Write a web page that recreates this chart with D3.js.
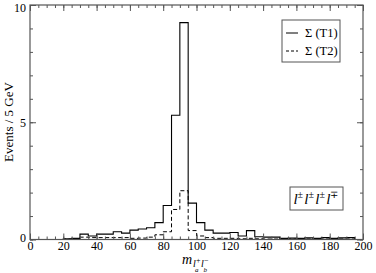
<!DOCTYPE html>
<html><head><meta charset="utf-8">
<script src="https://cdn.jsdelivr.net/npm/d3@7"></script>
<style>body{margin:0;background:#fff}svg{display:block}text{font-family:"Liberation Serif","Times New Roman",serif}</style>
</head><body>
<script>
const binEdges = d3.range(0, 200, 5); // lower edges, 5 GeV bins
const t1 = [0,0,0,0,0.03,0.05,0.23,0.15,0.23,0.23,0.33,0.27,0.40,0.45,0.50,0.72,1.45,5.30,9.25,1.55,0.72,0.40,0.27,0.27,0.30,0.15,0.38,0.12,0.10,0.10,0.05,0.06,0.05,0.07,0.05,0.08,0.05,0.07,0.08,0];
const t2 = [0,0,0,0,0.02,0.02,0.10,0.08,0.08,0.08,0.08,0.08,0.05,0.06,0.10,0.20,0.33,1.28,2.08,0.38,0.15,0.08,0.05,0.05,0.05,0.03,0.05,0.03,0.02,0.02,0.02,0.02,0.02,0.02,0.02,0.02,0.02,0.02,0.02,0];
const xMajor = [0,20,40,60,80,100,120,140,160,180,200];
const yMajor = [0,5,10];
const seriesNames = ["\u03A3 (T1)", "\u03A3 (T2)"];

const W=376,H=273;
const svg=d3.select("body").append("svg").attr("width",W).attr("height",H);
const L=30,R=363,T=5,B=239.5;
const x=d3.scaleLinear().domain([0,200]).range([L,R]);
const y=d3.scaleLinear().domain([0,10]).range([B,T]);
const axisColor="#555";

function stepPts(vals){
  const p=[[binEdges[0],0]];
  vals.forEach((v,i)=>{p.push([binEdges[i],v]);p.push([binEdges[i]+5,v]);});
  p.push([binEdges[binEdges.length-1]+5,0]);
  return p;
}
const line=d3.line().x(d=>x(d[0])).y(d=>y(d[1]));
svg.append("path").attr("d",line(stepPts(t2))).attr("fill","none").attr("stroke","#000").attr("stroke-width",1).attr("stroke-dasharray","4,2.5");
svg.append("path").attr("d",line(stepPts(t1))).attr("fill","none").attr("stroke","#000").attr("stroke-width",1.1);

// axes
const xMinor=d3.range(0,201,5), yMinor=d3.range(0,11,1);
function styleAx(g){g.select(".domain").remove();g.selectAll("line").attr("stroke",axisColor);g.selectAll("text").attr("font-size",12).attr("fill","#000").attr("font-family","Liberation Serif");}
svg.append("g").attr("transform",`translate(0,${B})`).call(d3.axisBottom(x).tickValues(xMinor).tickSize(-3).tickFormat("")).call(styleAx);
svg.append("g").attr("transform",`translate(0,${B})`).call(d3.axisBottom(x).tickValues(xMajor).tickSize(-6).tickPadding(2).tickFormat(d3.format("d"))).call(styleAx);
svg.append("g").attr("transform",`translate(0,${T})`).call(d3.axisTop(x).tickValues(xMinor).tickSize(-3).tickFormat("")).call(styleAx);
svg.append("g").attr("transform",`translate(0,${T})`).call(d3.axisTop(x).tickValues(xMajor).tickSize(-6).tickFormat("")).call(styleAx);
svg.append("g").attr("transform",`translate(${L},0)`).call(d3.axisLeft(y).tickValues(yMinor).tickSize(-3).tickFormat("")).call(styleAx);
const yl=svg.append("g").attr("transform",`translate(${L},0)`).call(d3.axisLeft(y).tickValues(yMajor).tickSize(-6).tickPadding(4).tickFormat(d3.format("d"))).call(styleAx);
yl.selectAll("text").attr("dy",d=>d===10?"0.5em":(d===0?"0.2em":"0.32em"));
svg.append("g").attr("transform",`translate(${R},0)`).call(d3.axisRight(y).tickValues(yMinor).tickSize(-3).tickFormat("")).call(styleAx);
svg.append("g").attr("transform",`translate(${R},0)`).call(d3.axisRight(y).tickValues(yMajor).tickSize(-6).tickFormat("")).call(styleAx);
svg.append("rect").attr("x",L).attr("y",T).attr("width",R-L).attr("height",B-T).attr("fill","none").attr("stroke",axisColor).attr("stroke-width",1.2);

// y title
svg.append("text").attr("transform","translate(13,122) rotate(-90)").attr("text-anchor","middle").attr("font-size",13).text("Events / 5 GeV");

// x title
const xt=svg.append("g");
xt.append("text").attr("x",182).attr("y",264).attr("font-size",14).attr("font-style","italic").text("m");
xt.append("text").attr("x",193).attr("y",267).attr("font-size",10).attr("font-style","italic").text("l");
xt.append("text").attr("x",196).attr("y",263).attr("font-size",8).text("+");
xt.append("text").attr("x",195).attr("y",272).attr("font-size",7).attr("font-style","italic").text("a");
xt.append("text").attr("x",201).attr("y",267).attr("font-size",10).attr("font-style","italic").text("l");
xt.append("text").attr("x",204).attr("y",263).attr("font-size",8).text("\u2212");
xt.append("text").attr("x",203.5).attr("y",272).attr("font-size",7).attr("font-style","italic").text("b");

// legend
svg.append("rect").attr("x",282).attr("y",20).attr("width",58).attr("height",42).attr("fill","#fff").attr("stroke",axisColor);
seriesNames.forEach((n,i)=>{
  const yy=33+i*18;
  svg.append("line").attr("x1",286).attr("x2",298).attr("y1",yy).attr("y2",yy).attr("stroke","#000").attr("stroke-dasharray",i?"3,2":null);
  svg.append("text").attr("x",305).attr("y",yy+4).attr("font-size",12.5).text(n);
});

// channel label
svg.append("rect").attr("x",290).attr("y",187).attr("width",53).attr("height",23).attr("fill","#fff").attr("stroke",axisColor);
const ch=svg.append("text").attr("x",316.5).attr("y",204).attr("text-anchor","middle").attr("font-size",15).attr("font-style","italic");
["\u00B1","\u00B1","\u00B1","\u2213"].forEach(s=>{
  ch.append("tspan").text("l");
  ch.append("tspan").attr("font-size",10).attr("font-style","normal").attr("dy",-6).text(s);
  ch.append("tspan").attr("dy",6).text("\u200A");
});
</script>
</body></html>
